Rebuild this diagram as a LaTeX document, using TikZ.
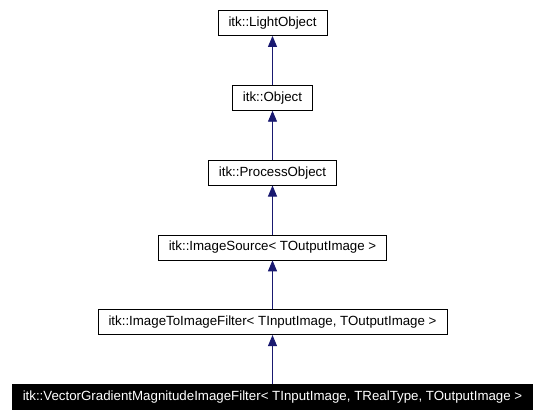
\documentclass[tikz,border=0pt]{standalone}
\usepackage{fontspec}
\setmainfont{Liberation Sans}
\usepackage{xcolor}
\usetikzlibrary{arrows.meta, positioning}
\definecolor{edgeblue}{RGB}{25,25,112}

\begin{document}
\begin{tikzpicture}[
    x=1pt, y=1pt,
    node distance=49pt,
    every node/.style={font=\fontsize{13.3}{15}\selectfont},
    cls/.style={
        draw=black,
        fill=white,
        minimum height=25pt,
        inner xsep=10.5pt,
        line width=0.8pt
    },
    current/.style={
        cls,
        fill=black,
        text=white
    },
    inherit/.style={-{Triangle[length=11pt, width=9pt]}, draw=edgeblue, fill=edgeblue, line width=0.9pt}
]
\useasboundingbox (0,0) rectangle (543,-415);

\node[cls] (light) at (272.5,-23) {itk::LightObject};
\node[cls, below=of light] (object) {itk::Object};
\node[cls, below=of object] (process) {itk::ProcessObject};
\node[cls, below=of process] (source) {itk::ImageSource< TOutputImage >};
\node[cls, below=of source] (filter) {itk::ImageToImageFilter< TInputImage, TOutputImage >};
\node[current, below=of filter] (vgm) {itk::VectorGradientMagnitudeImageFilter< TInputImage, TRealType, TOutputImage >};

\draw[inherit] (object) -- (light);
\draw[inherit] (process) -- (object);
\draw[inherit] (source) -- (process);
\draw[inherit] (filter) -- (source);
\draw[inherit] (vgm) -- (filter);

\end{tikzpicture}
\end{document}
